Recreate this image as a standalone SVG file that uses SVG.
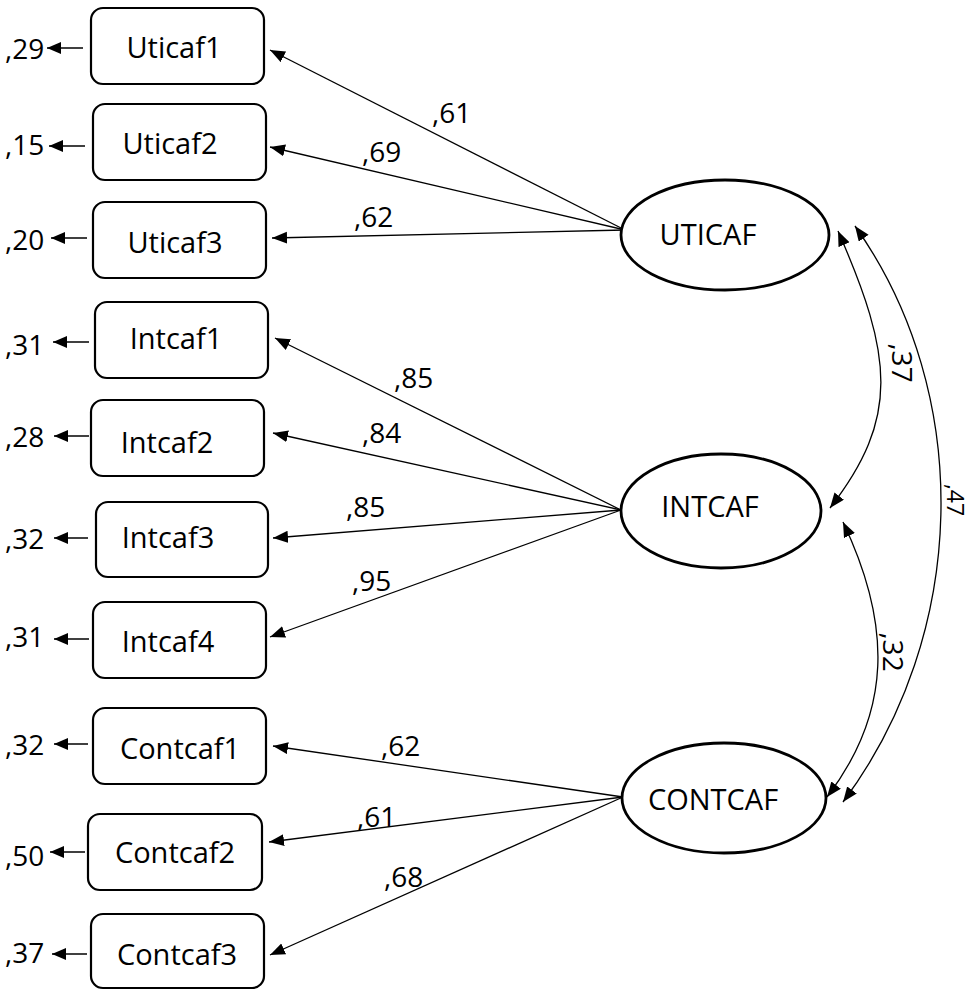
<svg xmlns="http://www.w3.org/2000/svg" width="971" height="990" viewBox="0 0 971 990">
<style>
.box{fill:#fff;stroke:#000;stroke-width:2.2}
.ell{fill:#fff;stroke:#000;stroke-width:2.8}
.t{font-family:"Open Sans","Liberation Sans",sans-serif;font-size:29px;fill:#000;text-anchor:middle}
.n{font-family:"Open Sans","Liberation Sans",sans-serif;font-size:28px;fill:#000}
.ld{fill:none;stroke:#000;stroke-width:1.3;marker-end:url(#ah)}
.rs{fill:none;stroke:#000;stroke-width:1.6;marker-end:url(#ahs)}
.cv{fill:none;stroke:#000;stroke-width:1.3;marker-start:url(#ah2);marker-end:url(#ah)}
</style>
<defs>
<marker id="ah" markerUnits="userSpaceOnUse" markerWidth="16" markerHeight="14" refX="15" refY="6" orient="auto"><path d="M0,0 L15,6 L0,12 z" fill="#000"/></marker>
<marker id="ah2" markerUnits="userSpaceOnUse" markerWidth="16" markerHeight="14" refX="15" refY="6" orient="auto-start-reverse"><path d="M0,0 L15,6 L0,12 z" fill="#000"/></marker>
<marker id="ahs" markerUnits="userSpaceOnUse" markerWidth="16" markerHeight="14" refX="14" refY="6" orient="auto"><path d="M0,0 L14,6 L0,12 z" fill="#000"/></marker>
</defs>
<g id="connectors">
<path class="ld" d="M625,230 L270,50"/>
<path class="ld" d="M625,230 L270,147"/>
<path class="ld" d="M625,230 L272,238"/>
<path class="ld" d="M621,510 L275,338"/>
<path class="ld" d="M621,510 L273,433"/>
<path class="ld" d="M621,510 L273,538"/>
<path class="ld" d="M621,510 L270,637"/>
<path class="ld" d="M623,797 L273,746"/>
<path class="ld" d="M623,797 L269,842"/>
<path class="ld" d="M623,797 L270,955"/>
<path class="rs" d="M83,48 L47,48"/>
<path class="rs" d="M85,146 L49,146"/>
<path class="rs" d="M87,238 L51,238"/>
<path class="rs" d="M89,342 L53,342"/>
<path class="rs" d="M89,436 L54,436"/>
<path class="rs" d="M88,538 L54,538"/>
<path class="rs" d="M89,639 L54,639"/>
<path class="rs" d="M88,744 L54,744"/>
<path class="rs" d="M85,852 L50,852"/>
<path class="rs" d="M87,954 L52,954"/>
<path class="cv" d="M838,231 C893,356 900,418 830,508"/>
<path class="cv" d="M843,522 C892,625 892,712 827,797"/>
<path class="cv" d="M855,226 C975,395 968,635 843,802"/>
<text class="n" x="432" y="123">,61</text>
<text class="n" x="362" y="162">,69</text>
<text class="n" x="354" y="227">,62</text>
<text class="n" x="394" y="388">,85</text>
<text class="n" x="362" y="443">,84</text>
<text class="n" x="346" y="517">,85</text>
<text class="n" x="352" y="591">,95</text>
<text class="n" x="381" y="756">,62</text>
<text class="n" x="357" y="827">,61</text>
<text class="n" x="384" y="887">,68</text>
<text class="n" x="5" y="59">,29</text>
<text class="n" x="5" y="155">,15</text>
<text class="n" x="5" y="250">,20</text>
<text class="n" x="5" y="355">,31</text>
<text class="n" x="5" y="447">,28</text>
<text class="n" x="5" y="549">,32</text>
<text class="n" x="5" y="647">,31</text>
<text class="n" x="5" y="755">,32</text>
<text class="n" x="5" y="866">,50</text>
<text class="n" x="5" y="963">,37</text>
<text class="n" text-anchor="middle" transform="translate(892,363) rotate(90)">,37</text>
<text class="n" text-anchor="middle" transform="translate(883,652) rotate(90)">,32</text>
<text class="n" text-anchor="middle" style="font-size:23px" transform="translate(947,500) rotate(90)">,47</text>
</g>
<g id="Uticaf1"><rect class="box" x="91" y="8" width="173" height="76" rx="12"/><text class="t" x="174" y="58">Uticaf1</text></g>
<g id="Uticaf2"><rect class="box" x="93" y="104" width="173" height="76" rx="12"/><text class="t" x="170" y="154">Uticaf2</text></g>
<g id="Uticaf3"><rect class="box" x="93" y="202" width="173" height="76" rx="12"/><text class="t" x="175" y="253">Uticaf3</text></g>
<g id="Intcaf1"><rect class="box" x="95" y="302" width="173" height="76" rx="12"/><text class="t" x="176" y="349">Intcaf1</text></g>
<g id="Intcaf2"><rect class="box" x="91" y="400" width="173" height="76" rx="12"/><text class="t" x="167" y="453">Intcaf2</text></g>
<g id="Intcaf3"><rect class="box" x="96" y="502" width="172" height="75" rx="12"/><text class="t" x="168" y="548">Intcaf3</text></g>
<g id="Intcaf4"><rect class="box" x="93" y="602" width="173" height="76" rx="12"/><text class="t" x="168" y="652">Intcaf4</text></g>
<g id="Contcaf1"><rect class="box" x="93" y="708" width="173" height="76" rx="12"/><text class="t" x="180" y="759">Contcaf1</text></g>
<g id="Contcaf2"><rect class="box" x="88" y="814" width="174" height="76" rx="12"/><text class="t" x="175" y="863">Contcaf2</text></g>
<g id="Contcaf3"><rect class="box" x="91" y="914" width="173" height="74" rx="12"/><text class="t" x="177" y="965">Contcaf3</text></g>
<g id="UTICAF"><ellipse class="ell" cx="725" cy="235" rx="104" ry="55"/><text class="t" x="708" y="245">UTICAF</text></g>
<g id="INTCAF"><ellipse class="ell" cx="721" cy="511" rx="100" ry="57"/><text class="t" x="710" y="517">INTCAF</text></g>
<g id="CONTCAF"><ellipse class="ell" cx="724" cy="798" rx="102" ry="55"/><text class="t" x="713" y="810">CONTCAF</text></g>
</svg>
